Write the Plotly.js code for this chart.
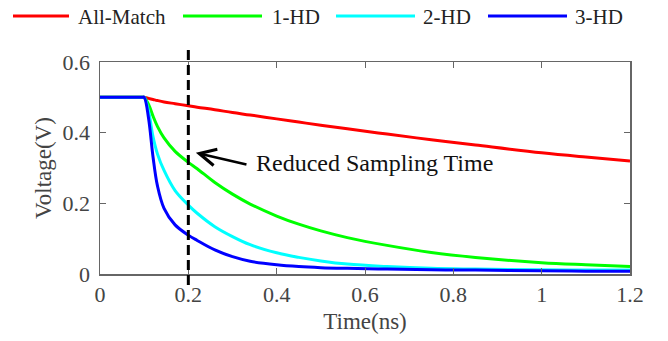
<!DOCTYPE html>
<html>
<head>
<meta charset="utf-8">
<script src="https://cdn.plot.ly/plotly-3.0.1.min.js"></script>
<style>html,body{margin:0;padding:0;background:#fff;}#chart{width:668px;height:341px;}</style>
</head>
<body>
<div id="chart"></div>
<script>
// ---- data ----
const time = [0, 0.095, 0.1, 0.11, 0.12, 0.13, 0.145, 0.17, 0.2, 0.22, 0.26, 0.3, 0.34, 0.4, 0.45, 0.5, 0.56, 0.65, 0.75, 0.85, 1.0, 1.1, 1.2];
const allMatch = [0.5, 0.5, 0.5, 0.497, 0.494, 0.491, 0.487, 0.482, 0.476, 0.472, 0.465, 0.457, 0.450, 0.439, 0.430, 0.421, 0.411, 0.396, 0.380, 0.365, 0.343, 0.331, 0.320];
const hd1 = [0.5, 0.5, 0.5, 0.480, 0.447, 0.418, 0.385, 0.347, 0.316, 0.298, 0.259, 0.226, 0.198, 0.164, 0.141, 0.122, 0.103, 0.081, 0.061, 0.047, 0.032, 0.026, 0.021];
const hd2 = [0.5, 0.5, 0.5, 0.460, 0.389, 0.340, 0.293, 0.236, 0.195, 0.172, 0.134, 0.106, 0.083, 0.060, 0.047, 0.037, 0.028, 0.021, 0.016, 0.014, 0.012, 0.011, 0.011];
const hd3 = [0.5, 0.5, 0.5, 0.440, 0.332, 0.250, 0.186, 0.139, 0.110, 0.095, 0.068, 0.049, 0.036, 0.026, 0.021, 0.018, 0.016, 0.014, 0.012, 0.011, 0.009, 0.008, 0.008];
const seriesNames = ["All-Match", "1-HD", "2-HD", "3-HD"];
const xTicks = [0, 0.2, 0.4, 0.6, 0.8, 1, 1.2];
const xTickLabels = ["0", "0.2", "0.4", "0.6", "0.8", "1", "1.2"];
const yTicks = [0, 0.2, 0.4, 0.6];
const yTickLabels = ["0", "0.2", "0.4", "0.6"];
const samplingTime = 0.2;
const annotationText = "Reduced Sampling Time";

// ---- styling ----
const colors = ["#ff0000", "#00ff00", "#00ffff", "#0000ff"];
const FONT = "'Liberation Serif', 'Times New Roman', serif";
const seriesY = [allMatch, hd1, hd2, hd3];

const traces = seriesY.map((ys, i) => ({
  x: time, y: ys, name: seriesNames[i], type: "scatter", mode: "lines",
  line: {color: colors[i], width: 3, shape: "spline", smoothing: 1}, showlegend: false
}));

// custom legend (pixel placement converted to paper coords)
const M = {l: 100, r: 38, t: 62, b: 67};
const W = 668, H = 341;
const pw = W - M.l - M.r, ph = H - M.t - M.b;
const px2x = px => (px - M.l) / pw;
const py2y = py => (H - M.b - py) / ph;
const legendPos = [
  {x0: 13, x1: 69, tx: 76},
  {x0: 183, x1: 262, tx: 270},
  {x0: 336, x1: 415, tx: 421},
  {x0: 488, x1: 567, tx: 573}
];
const legendY = 16;

const shapes = [{
  type: "line", xref: "x", yref: "paper",
  x0: samplingTime, x1: samplingTime, y0: py2y(285), y1: py2y(47),
  line: {color: "#000", width: 3, dash: "10px,5px"}
}];
const annotations = [];
legendPos.forEach((p, i) => {
  shapes.push({type: "line", xref: "paper", yref: "paper",
    x0: px2x(p.x0), x1: px2x(p.x1), y0: py2y(legendY), y1: py2y(legendY),
    line: {color: colors[i], width: 3}});
  annotations.push({xref: "paper", yref: "paper", x: px2x(p.tx), y: py2y(legendY + 1),
    xanchor: "left", yanchor: "middle", showarrow: false, text: seriesNames[i],
    font: {family: FONT, size: 21, color: "#222"}});
});
// arrow + label
annotations.push({
  xref: "x", yref: "y", x: 0.217, y: 0.343, axref: "x", ayref: "y", ax: 0.335, ay: 0.309,
  text: "", showarrow: true, arrowhead: 5, arrowsize: 1.3, arrowwidth: 2.5, arrowcolor: "#000", standoff: 0
});
annotations.push({
  xref: "x", yref: "y", x: 0.349, y: 0.313, xanchor: "left", yanchor: "middle",
  showarrow: false, text: annotationText, font: {family: FONT, size: 24, color: "#111"}
});

const axisCommon = {
  showline: true, linecolor: "#666", linewidth: 1.5, mirror: "ticks",
  ticks: "inside", ticklen: 6, tickwidth: 1, tickcolor: "#666",
  showgrid: false, zeroline: false,
  tickfont: {family: FONT, size: 22, color: "#444"}
};

const layout = {
  width: W, height: H,
  margin: M,
  paper_bgcolor: "#fff", plot_bgcolor: "#fff",
  showlegend: false,
  xaxis: Object.assign({}, axisCommon, {
    range: [0, 1.2], tickvals: xTicks, ticktext: xTickLabels,
    title: {text: "Time(ns)", font: {family: FONT, size: 23, color: "#444"}, standoff: 7}
  }),
  yaxis: Object.assign({}, axisCommon, {
    range: [0, 0.6], tickvals: yTicks, ticktext: yTickLabels, ticklabelstandoff: 4,
    title: {text: "Voltage(V)", font: {family: FONT, size: 23, color: "#444"}, standoff: 4}
  }),
  shapes: shapes,
  annotations: annotations
};

Plotly.newPlot("chart", traces, layout, {displayModeBar: false, staticPlot: true});
</script>
</body>
</html>
